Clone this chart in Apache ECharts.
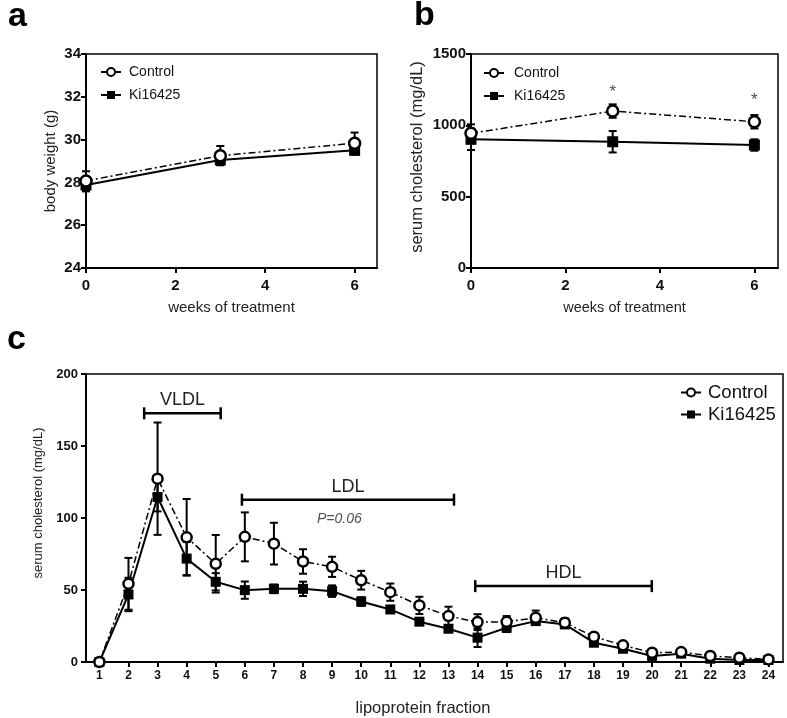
<!DOCTYPE html>
<html>
<head>
<meta charset="utf-8">
<script src="https://cdn.jsdelivr.net/npm/echarts@6/dist/echarts.min.js"></script>
<style>
html,body{margin:0;padding:0;background:#fff}
#chart{width:787px;height:718px}
</style>
</head>
<body>
<div id="chart"></div>
<script>
// panel a / b : weeks of treatment
var weeks = [0, 3, 6]
var weightCtrl = [28.07, 29.25, 29.83]
var weightCtrlErr = [0.45, 0.45, 0.5]
var weightKi = [27.88, 29.05, 29.5]
var weightKiErr = [0.3, 0.2, 0.2]
var cholCtrl = [944, 1100, 1025]
var cholCtrlErr = [63, 47, 47]
var cholKi = [902, 885, 862]
var cholKiErr = [75, 75, 40]
var starX = [3, 6]
var starY = [1234, 1178]

// panel c : lipoprotein fractions
var fractions = [1,2,3,4,5,6,7,8,9,10,11,12,13,14,15,16,17,18,19,20,21,22,23,24]
var lipoCtrl = [0, 54.3, 127.3, 86.6, 68.2, 86.9, 82.2, 69.8, 66.1, 56.8, 48.5, 39.3, 31.9, 27.7, 27.9, 30.7, 27.3, 17.6, 11.6, 6.5, 6.9, 4.2, 3.0, 1.8]
var lipoCtrlErr = [0, 18, 39, 26.6, 20, 17, 14.5, 8.5, 7, 6.5, 6, 6, 6.5, 5.5, 4, 5, 3, 2, 2, 2, 1.5, 1.5, 1, 1]
var lipoKi = [0, 46.9, 114.6, 71.8, 55.7, 49.9, 50.8, 50.8, 49.2, 42, 36.5, 28, 23.1, 16.9, 23.8, 28.4, 26.1, 13.4, 9.2, 4.2, 5.8, 2.3, 1.4, 1.4]
var lipoKiErr = [0, 11.6, 10, 11.5, 6, 6, 3, 5, 4, 3, 2, 2, 2, 6.5, 3, 2, 2, 2, 2, 2, 1.5, 1.5, 1, 1]
var regionNames = ['VLDL', 'LDL', 'HDL']
var regionStart = [2.54, 5.9, 13.92]
var regionEnd = [5.17, 13.19, 19.99]
var regionLevel = [172.7, 112.7, 52.7]
var pNote = [9.25, 99.5, 'P=0.06']

var FONT = 'Liberation Sans, Arial, sans-serif'
var dashDot = [7, 3, 2, 3]

function pts(xs, ys){
	var out = []
	for(var i = 0; i < xs.length; i++){ out.push([xs[i], ys[i]]) }
	return out
}
function errs(xs, ys, es){
	var out = []
	for(var i = 0; i < xs.length; i++){ out.push([xs[i], ys[i] - es[i], ys[i] + es[i]]) }
	return out
}
function errRender(params, api){
	var p1 = api.coord([api.value(0), api.value(1)])
	var p2 = api.coord([api.value(0), api.value(2)])
	var c = 4
	var st = {stroke:'#000', lineWidth:2}
	return {type:'group', children:[
		{type:'line', shape:{x1:p1[0], y1:p1[1], x2:p2[0], y2:p2[1]}, style:st},
		{type:'line', shape:{x1:p1[0]-c, y1:p1[1], x2:p1[0]+c, y2:p1[1]}, style:st},
		{type:'line', shape:{x1:p2[0]-c, y1:p2[1], x2:p2[0]+c, y2:p2[1]}, style:st}
	]}
}
function bracketRender(params, api){
	var a = api.coord([api.value(0), api.value(2)])
	var b = api.coord([api.value(1), api.value(2)])
	var st = {stroke:'#000', lineWidth:2.5}
	return {type:'group', children:[
		{type:'line', shape:{x1:a[0], y1:a[1], x2:b[0], y2:b[1]}, style:st},
		{type:'line', shape:{x1:a[0], y1:a[1]-6, x2:a[0], y2:a[1]+6}, style:st},
		{type:'line', shape:{x1:b[0], y1:b[1]-6, x2:b[0], y2:b[1]+6}, style:st},
		{type:'text', style:{text:regionNames[params.dataIndex], x:(a[0]+b[0])/2, y:a[1]-4,
			align:'center', verticalAlign:'bottom', font:'18px ' + FONT, fill:'#222'}}
	]}
}

function lineSeries(name, data, xi, size){
	var ctrl = name == 'Control'
	return {
		name:name, type:'line', data:data, xAxisIndex:xi, yAxisIndex:xi,
		symbol: ctrl ? 'circle' : 'rect', symbolSize: size,
		z: ctrl ? 4 : 3,
		lineStyle:{color:'#000', width: ctrl ? 1.5 : 2, type: ctrl ? dashDot : 'solid'},
		itemStyle: ctrl ? {color:'#fff', borderColor:'#000', borderWidth:2.5} : {color:'#000'},
		emphasis:{disabled:true}, animation:false
	}
}
function errSeries(data, xi){
	return {type:'custom', data:data, xAxisIndex:xi, yAxisIndex:xi, renderItem:errRender,
		encode:{x:0, y:[1, 2]}, z:2, silent:true, animation:false}
}

var tickLab = {color:'#111', fontFamily:FONT, fontWeight:'bold', fontSize:15}
var axLine = {lineStyle:{color:'#000', width:2}}
var axTick = {show:true, length:5, lineStyle:{color:'#000', width:2}}
var nameSty = {color:'#222', fontFamily:FONT, fontSize:15}

function legend(left, top, size, pad){
	return {data:['Control', 'Ki16425'], orient:'vertical', left:left, top:top,
		itemWidth:20, itemHeight:10, itemGap: size > 15 ? 3 : 9, selectedMode:false,
		textStyle:{fontFamily:FONT, fontSize:size, color:'#111', padding:[0,0,0,pad]}}
}

var myChart = echarts.init(document.getElementById('chart'))
var option = {
	backgroundColor:'#fff',
	animation:false,
	title:[
		{text:'a', left:3, top:-5, textStyle:{fontSize:34, fontWeight:'bold', fontFamily:FONT, color:'#000'}},
		{text:'b', left:409, top:-6, textStyle:{fontSize:34, fontWeight:'bold', fontFamily:FONT, color:'#000'}},
		{text:'c', left:2, top:318, textStyle:{fontSize:34, fontWeight:'bold', fontFamily:FONT, color:'#000'}}
	],
	legend:[legend(95, 60, 14, 3), legend(478, 61, 14, 5), legend(675, 378, 18.5, 2)],
	grid:[
		{left:86, top:54, width:291, height:214, show:true, borderColor:'#000', borderWidth:1.5},
		{left:471, top:54, width:307, height:214, show:true, borderColor:'#000', borderWidth:1.5},
		{left:86, top:374, width:697, height:289, show:true, borderColor:'#000', borderWidth:1.5}
	],
	xAxis:[
		{gridIndex:0, type:'value', min:0, max:6.5, axisLine:axLine, splitLine:{show:false},
			axisTick:Object.assign({customValues:[0,2,4,6]}, axTick),
			axisLabel:Object.assign({customValues:[0,2,4,6], margin:10}, tickLab),
			name:'weeks of treatment', nameLocation:'middle', nameGap:32, nameTextStyle:nameSty},
		{gridIndex:1, type:'value', min:0, max:6.5, axisLine:axLine, splitLine:{show:false},
			axisTick:Object.assign({customValues:[0,2,4,6]}, axTick),
			axisLabel:Object.assign({customValues:[0,2,4,6], margin:10}, tickLab),
			name:'weeks of treatment', nameLocation:'middle', nameGap:32,
			nameTextStyle:Object.assign({}, nameSty, {fontSize:14.5})},
		{gridIndex:2, type:'value', min:0.54, max:24.5, axisLine:axLine, splitLine:{show:false},
			axisTick:Object.assign({customValues:fractions}, axTick),
			axisLabel:Object.assign({customValues:fractions, margin:8}, tickLab, {fontSize:12}),
			name:'lipoprotein fraction', nameLocation:'middle', nameGap:38,
			nameTextStyle:Object.assign({}, nameSty, {fontSize:16.5, padding:[0,23,0,0]})}
	],
	yAxis:[
		{gridIndex:0, type:'value', min:24, max:34, interval:2, axisLine:axLine, axisTick:axTick,
			splitLine:{show:false}, axisLabel:Object.assign({margin:5}, tickLab),
			name:'body weight (g)', nameLocation:'middle', nameGap:28, nameTextStyle:nameSty},
		{gridIndex:1, type:'value', min:0, max:1500, interval:500, axisLine:axLine, axisTick:axTick,
			splitLine:{show:false},
			axisLabel:Object.assign({margin:5, formatter:function(v){ return String(v) }}, tickLab),
			name:'serum cholesterol (mg/dL)', nameLocation:'middle', nameGap:45,
			nameTextStyle:Object.assign({}, nameSty, {fontSize:16.5, padding:[0,0,0,8]})},
		{gridIndex:2, type:'value', min:0, max:200, interval:50, axisLine:axLine, axisTick:axTick,
			splitLine:{show:false}, axisLabel:Object.assign({margin:8}, tickLab, {fontSize:13}),
			name:'serum cholesterol (mg/dL)', nameLocation:'middle', nameGap:41,
			nameTextStyle:Object.assign({}, nameSty, {fontSize:13, padding:[0,0,0,30]})}
	],
	series:[
		errSeries(errs(weeks, weightCtrl, weightCtrlErr), 0),
		errSeries(errs(weeks, weightKi, weightKiErr), 0),
		lineSeries('Ki16425', pts(weeks, weightKi), 0, 11),
		lineSeries('Control', pts(weeks, weightCtrl), 0, 11),

		errSeries(errs(weeks, cholCtrl, cholCtrlErr), 1),
		errSeries(errs(weeks, cholKi, cholKiErr), 1),
		lineSeries('Ki16425', pts(weeks, cholKi), 1, 11),
		lineSeries('Control', pts(weeks, cholCtrl), 1, 11),
		{type:'scatter', xAxisIndex:1, yAxisIndex:1, data:pts(starX, starY), symbolSize:0, silent:true,
			label:{show:true, formatter:'*', position:'inside', fontSize:17, fontFamily:FONT, color:'#222'}},

		errSeries(errs(fractions, lipoCtrl, lipoCtrlErr), 2),
		errSeries(errs(fractions, lipoKi, lipoKiErr), 2),
		lineSeries('Ki16425', pts(fractions, lipoKi), 2, 10),
		lineSeries('Control', pts(fractions, lipoCtrl), 2, 10),
		{type:'custom', xAxisIndex:2, yAxisIndex:2, renderItem:bracketRender, silent:true,
			encode:{x:[0, 1], y:2}, data:regionNames.map(function(n, i){
				return [regionStart[i], regionEnd[i], regionLevel[i]]
			})},
		{type:'scatter', xAxisIndex:2, yAxisIndex:2, data:[[pNote[0], pNote[1]]], symbolSize:0, silent:true,
			label:{show:true, formatter:pNote[2], position:'inside', fontSize:14, fontStyle:'italic',
				fontFamily:FONT, color:'#222'}}
	]
}
myChart.setOption(option)
</script>
</body>
</html>
